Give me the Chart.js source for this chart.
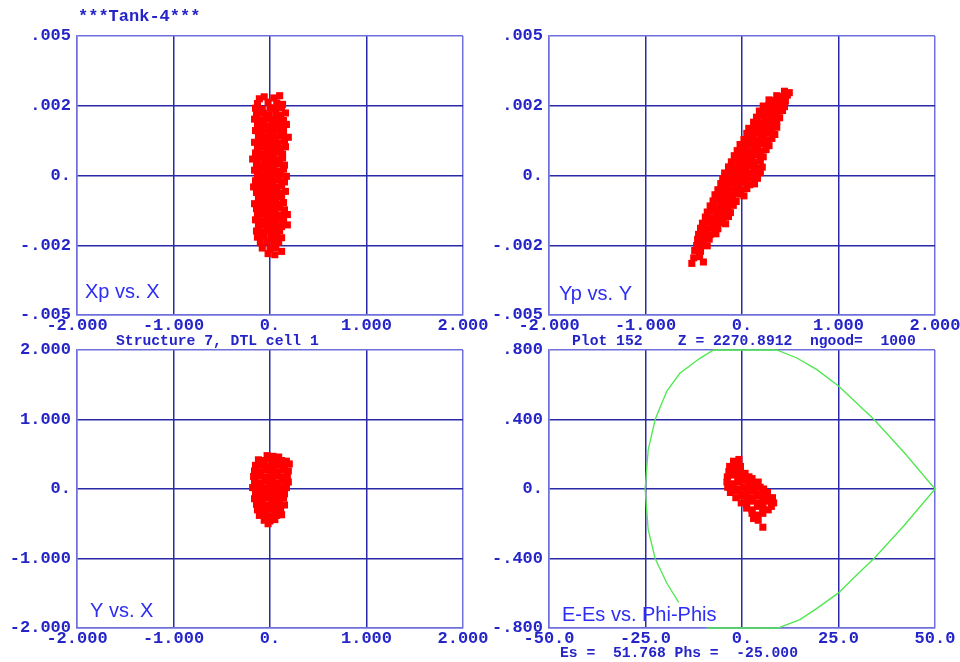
<!DOCTYPE html>
<html>
<head>
<meta charset="utf-8">
<script src="https://cdn.jsdelivr.net/npm/chart.js@4.4.0/dist/chart.umd.min.js"></script>
<style>
  html, body { margin: 0; padding: 0; background: #fff; }
  #wrap { position: relative; width: 960px; height: 662px; overflow: hidden; }
  #wrap canvas { position: absolute; left: 0; top: 0; }
  .txt { position: absolute; font-family: "Liberation Mono", monospace; font-weight: bold;
         color: #2424c8; white-space: pre; line-height: 1; }
</style>
</head>
<body>
<div id="wrap">
  <canvas id="p1" width="960" height="662"></canvas>
  <canvas id="p2" width="960" height="662"></canvas>
  <canvas id="p3" width="960" height="662"></canvas>
  <canvas id="p4" width="960" height="662"></canvas>
  <div class="txt" style="left:78px;top:8px;font-size:17px">***Tank-4***</div>
  <div class="txt" style="left:116px;top:334px;font-size:14.7px">Structure 7, DTL cell 1</div>
  <div class="txt" style="left:572px;top:334px;font-size:14.7px">Plot 152    Z = 2270.8912  ngood=  1000</div>
  <div class="txt" style="left:560px;top:646px;font-size:14.7px">Es =  51.768 Phs =  -25.000</div>
</div>
<script>
// tick values and the labels printed for them
const posTicks = [-2, -1, 0, 1, 2];            // X, Y in cm
const posLabels = ['-2.000', '-1.000', '0.', '1.000', '2.000'];
const angTicks = [-5, -2.5, 0, 2.5, 5];        // Xp, Yp in mrad
const angLabels = ['-.005', '-.002', '0.', '.002', '.005'];
const phiTicks = [-50, -25, 0, 25, 50];        // Phi-Phis in deg
const phiLabels = ['-50.0', '-25.0', '0.', '25.0', '50.0'];
const dETicks = [-0.8, -0.4, 0, 0.4, 0.8];     // E-Es in MeV
const dELabels = ['-.800', '-.400', '0.', '.400', '.800'];

// Xp vs. X  ([X cm, Xp mrad])
const xXpPoints = [
  [-0.06,2.82],[0.04,2.78],[0.1,2.86],[-0.11,2.75],
  [-0.13,2.58],[-0.02,2.63],[0.07,2.6],[0.13,2.55],
  [-0.15,2.41],[-0.08,2.37],[0.0,2.43],[0.05,2.39],[0.12,2.44],
  [-0.14,2.19],[-0.07,2.23],[-0.01,2.18],[0.06,2.21],[0.11,2.17],[0.16,2.24],
  [-0.16,2.02],[-0.1,1.98],[-0.04,2.03],[0.02,1.99],[0.08,2.01],[0.14,1.97],
  [-0.13,1.79],[-0.07,1.82],[-0.01,1.78],[0.05,1.81],[0.11,1.77],[0.17,1.83],
  [-0.15,1.61],[-0.09,1.58],[-0.03,1.62],[0.03,1.59],[0.09,1.63],[0.14,1.6],
  [-0.12,1.41],[-0.06,1.38],[0.0,1.42],[0.06,1.39],[0.12,1.43],[0.19,1.37],
  [-0.16,1.19],[-0.1,1.22],[-0.04,1.18],[0.02,1.21],[0.08,1.17],[0.15,1.23],
  [-0.13,0.99],[-0.07,1.02],[-0.01,0.98],[0.05,1.01],[0.11,0.97],[0.16,1.03],
  [-0.15,0.81],[-0.09,0.78],[-0.03,0.82],[0.03,0.79],[0.09,0.83],[0.13,0.77],
  [-0.18,0.59],[-0.11,0.62],[-0.05,0.58],[0.01,0.61],[0.07,0.57],[0.13,0.63],
  [-0.14,0.41],[-0.08,0.38],[-0.02,0.42],[0.04,0.39],[0.1,0.43],[0.15,0.37],
  [-0.16,0.19],[-0.1,0.22],[-0.04,0.18],[0.02,0.21],[0.08,0.17],[0.14,0.23],
  [-0.13,0.01],[-0.07,-0.02],[-0.01,0.02],[0.05,-0.01],[0.11,0.03],[0.17,-0.03],
  [-0.15,-0.19],[-0.09,-0.22],[-0.03,-0.18],[0.03,-0.21],[0.09,-0.17],[0.15,-0.23],
  [-0.17,-0.41],[-0.11,-0.38],[-0.05,-0.42],[0.01,-0.39],[0.07,-0.43],[0.12,-0.37],
  [-0.14,-0.61],[-0.08,-0.58],[-0.02,-0.62],[0.04,-0.59],[0.1,-0.63],[0.16,-0.57],
  [-0.12,-0.79],[-0.06,-0.82],[0.0,-0.78],[0.06,-0.81],[0.12,-0.77],
  [-0.16,-1.01],[-0.1,-0.98],[-0.04,-1.02],[0.02,-0.99],[0.08,-1.03],[0.14,-0.97],
  [-0.14,-1.19],[-0.08,-1.22],[-0.02,-1.18],[0.04,-1.21],[0.1,-1.17],[0.15,-1.23],
  [-0.13,-1.41],[-0.07,-1.38],[-0.01,-1.42],[0.05,-1.39],[0.11,-1.43],[0.18,-1.4],
  [-0.15,-1.59],[-0.09,-1.62],[-0.03,-1.58],[0.03,-1.61],[0.09,-1.57],[0.14,-1.63],
  [-0.12,-1.81],[-0.06,-1.78],[0.0,-1.82],[0.06,-1.79],[0.12,-1.83],[0.18,-1.77],
  [-0.14,-1.99],[-0.08,-2.02],[-0.02,-1.98],[0.04,-2.01],[0.1,-1.97],
  [-0.13,-2.21],[-0.06,-2.18],[0.01,-2.22],[0.07,-2.19],[0.12,-2.23],
  [-0.1,-2.41],[-0.03,-2.38],[0.04,-2.42],[0.09,-2.39],
  [-0.08,-2.6],[0.0,-2.63],[0.06,-2.58],
  [-0.02,-2.8],[0.05,-2.84],[0.12,-2.72]
];

// Yp vs. Y  ([Y cm, Yp mrad])
const yYpPoints = [
  [0.44,3.02],[0.49,2.97],
  [0.36,2.86],[0.42,2.83],[0.47,2.88],
  [0.28,2.71],[0.34,2.68],[0.4,2.72],[0.45,2.67],
  [0.22,2.49],[0.28,2.52],[0.34,2.48],[0.4,2.51],[0.44,2.47],
  [0.18,2.31],[0.24,2.28],[0.3,2.32],[0.36,2.29],[0.42,2.33],
  [0.15,2.09],[0.21,2.12],[0.27,2.08],[0.33,2.11],[0.39,2.07],
  [0.12,1.91],[0.18,1.88],[0.24,1.92],[0.3,1.89],[0.36,1.93],
  [0.07,1.69],[0.13,1.72],[0.19,1.68],[0.25,1.71],[0.31,1.67],[0.36,1.73],
  [0.05,1.51],[0.11,1.48],[0.17,1.52],[0.23,1.49],[0.29,1.53],[0.34,1.47],
  [0.02,1.29],[0.08,1.32],[0.14,1.28],[0.2,1.31],[0.26,1.27],[0.31,1.33],
  [-0.02,1.11],[0.04,1.08],[0.1,1.12],[0.16,1.09],[0.22,1.13],[0.28,1.07],
  [-0.05,0.89],[0.01,0.92],[0.07,0.88],[0.13,0.91],[0.19,0.87],[0.25,0.93],
  [-0.08,0.71],[-0.02,0.68],[0.04,0.72],[0.1,0.69],[0.16,0.73],[0.22,0.67],
  [-0.11,0.49],[-0.05,0.52],[0.01,0.48],[0.07,0.51],[0.13,0.47],[0.19,0.53],
  [-0.14,0.31],[-0.08,0.28],[-0.02,0.32],[0.04,0.29],[0.1,0.33],[0.16,0.27],[0.21,0.3],
  [-0.18,0.09],[-0.11,0.12],[-0.05,0.08],[0.01,0.11],[0.07,0.07],[0.13,0.13],[0.19,0.1],
  [-0.2,-0.11],[-0.13,-0.08],[-0.07,-0.12],[-0.01,-0.09],[0.05,-0.13],[0.11,-0.07],[0.16,-0.1],
  [-0.22,-0.29],[-0.16,-0.32],[-0.1,-0.28],[-0.04,-0.31],[0.02,-0.27],[0.08,-0.33],[0.13,-0.3],
  [-0.25,-0.51],[-0.19,-0.48],[-0.13,-0.52],[-0.07,-0.49],[-0.01,-0.53],[0.05,-0.47],
  [-0.28,-0.69],[-0.22,-0.72],[-0.16,-0.68],[-0.1,-0.71],[-0.04,-0.67],[0.02,-0.73],
  [-0.3,-0.91],[-0.24,-0.88],[-0.18,-0.92],[-0.12,-0.89],[-0.06,-0.93],
  [-0.33,-1.09],[-0.27,-1.12],[-0.21,-1.08],[-0.15,-1.11],[-0.09,-1.07],
  [-0.36,-1.31],[-0.3,-1.28],[-0.24,-1.32],[-0.18,-1.29],[-0.12,-1.33],
  [-0.38,-1.49],[-0.32,-1.52],[-0.26,-1.48],[-0.2,-1.51],[-0.14,-1.47],
  [-0.41,-1.71],[-0.35,-1.68],[-0.29,-1.72],[-0.23,-1.69],[-0.17,-1.73],
  [-0.43,-1.89],[-0.37,-1.92],[-0.31,-1.88],[-0.25,-1.91],
  [-0.45,-2.11],[-0.39,-2.08],[-0.33,-2.12],[-0.27,-2.09],
  [-0.46,-2.29],[-0.4,-2.32],[-0.34,-2.28],
  [-0.47,-2.51],[-0.41,-2.48],[-0.36,-2.52],
  [-0.49,-2.69],[-0.43,-2.72],
  [-0.5,-2.95],[-0.44,-2.91],
  [-0.52,-3.15],[-0.4,-3.1]
];

// Y vs. X  ([X cm, Y cm])
const xYPoints = [
  [-0.03,0.48],[0.03,0.47],[0.09,0.46],
  [-0.12,0.42],[-0.06,0.41],[0.0,0.43],[0.06,0.42],[0.12,0.41],[0.17,0.4],
  [-0.15,0.34],[-0.09,0.35],[-0.03,0.33],[0.03,0.34],[0.09,0.35],[0.15,0.33],[0.2,0.36],
  [-0.16,0.26],[-0.1,0.25],[-0.04,0.27],[0.02,0.26],[0.08,0.25],[0.14,0.27],[0.19,0.26],
  [-0.17,0.18],[-0.11,0.19],[-0.05,0.17],[0.01,0.18],[0.07,0.19],[0.13,0.17],[0.18,0.18],
  [-0.16,0.1],[-0.1,0.09],[-0.04,0.11],[0.02,0.1],[0.08,0.09],[0.14,0.11],[0.19,0.1],
  [-0.18,0.02],[-0.12,0.03],[-0.06,0.01],[0.0,0.02],[0.06,0.03],[0.12,0.01],[0.17,0.02],
  [-0.15,-0.06],[-0.09,-0.05],[-0.03,-0.07],[0.03,-0.06],[0.09,-0.05],[0.15,-0.07],
  [-0.16,-0.14],[-0.1,-0.15],[-0.04,-0.13],[0.02,-0.14],[0.08,-0.15],[0.14,-0.13],
  [-0.14,-0.22],[-0.08,-0.21],[-0.02,-0.23],[0.04,-0.22],[0.1,-0.21],[0.15,-0.23],
  [-0.13,-0.3],[-0.07,-0.31],[-0.01,-0.29],[0.05,-0.3],[0.11,-0.31],
  [-0.11,-0.38],[-0.05,-0.37],[0.01,-0.39],[0.07,-0.38],[0.12,-0.37],
  [-0.06,-0.45],[0.0,-0.46],[0.05,-0.44],
  [-0.02,-0.5]
];

// E-Es vs. Phi-Phis  ([deg, MeV])
const phiEPoints = [
  [-2.2,0.16],[-0.8,0.17],
  [-3.2,0.13],[-1.8,0.14],[-0.4,0.13],
  [-3.4,0.1],[-2.0,0.11],[-0.6,0.1],[0.8,0.09],
  [-3.8,0.07],[-2.4,0.08],[-1.0,0.07],[0.4,0.06],[1.8,0.07],[2.6,0.06],
  [-3.9,0.04],[-2.5,0.03],[-1.1,0.04],[0.3,0.05],[1.7,0.04],[3.1,0.03],[4.2,0.04],
  [-3.7,0.01],[-2.3,0.02],[-0.9,0.0],[0.5,0.01],[1.9,0.02],[3.3,0.0],[4.7,0.01],[5.6,0.0],
  [-3.0,-0.02],[-1.6,-0.01],[-0.2,-0.03],[1.2,-0.02],[2.6,-0.01],[4.0,-0.03],[5.4,-0.02],[6.6,-0.02],
  [-1.6,-0.05],[-0.2,-0.04],[1.2,-0.06],[2.6,-0.05],[4.0,-0.04],[5.4,-0.06],[6.8,-0.05],[7.9,-0.05],
  [-0.2,-0.08],[1.2,-0.09],[2.6,-0.07],[4.0,-0.08],[5.4,-0.09],[6.8,-0.07],[8.2,-0.08],
  [1.2,-0.11],[2.6,-0.12],[4.0,-0.1],[5.4,-0.11],[6.8,-0.12],[7.6,-0.1],
  [2.6,-0.14],[4.0,-0.15],[5.4,-0.14],
  [3.0,-0.17],[4.2,-0.18],
  [5.4,-0.22]
];

// separatrix (clipped to +-0.8 in the plot)
const separatrixPhi = [-9.1, 0, 9.3, 15.0, 19.4, 25, 29.7, 34.2, 42, 46, 50,
  46, 42, 34.2, 29.7, 25, 19.4, 14.2, 9, 0, -7.4, -10.9, -16.1, -19.5, -22.5, -24.3, -25.1,
  -24.3, -22.5, -19.5, -16.4];
const separatrixDE = [-0.8, -0.8, -0.8, -0.752, -0.687, -0.598, -0.495, -0.40, -0.21, -0.105, 0,
  0.105, 0.21, 0.40, 0.495, 0.593, 0.687, 0.754, 0.8, 0.8, 0.8, 0.752, 0.666, 0.562, 0.40, 0.226, 0,
  -0.234, -0.40, -0.541, -0.652];

const TEXT = '#2424c8';
const GRID = '#2a2aa8';
const EDGE = '#7070dd';
const RED = '#ff0000';
const GREEN = '#4de84d';
const MONO = '"Liberation Mono", "DejaVu Sans Mono", monospace';

const panelLabel = {
  id: 'panelLabel',
  afterDraw(chart, args, opts) {
    const { ctx, chartArea } = chart;
    ctx.save();
    ctx.font = '20px "Liberation Sans", Arial, sans-serif';
    ctx.fillStyle = '#2e2ef2';
    ctx.textBaseline = 'alphabetic';
    ctx.fillText(opts.text, chartArea.left + opts.dx, chartArea.bottom - opts.dy);
    ctx.restore();
  }
};

function axis(ticks, labels, horizontal) {
  return {
    type: 'linear',
    min: ticks[0],
    max: ticks[ticks.length - 1],
    afterBuildTicks: s => { s.ticks = ticks.map(v => ({ value: v })); },
    afterFit: s => {
      if (horizontal) { s.height = 30; s.paddingLeft = 0; s.paddingRight = 0; }
      else { s.width = 70; s.paddingTop = 0; s.paddingBottom = 0; }
    },
    ticks: {
      autoSkip: false, maxRotation: 0, minRotation: 0,
      padding: horizontal ? 1 : 6,
      color: TEXT,
      font: { family: MONO, size: 17, weight: 'bold' },
      callback: (v, i) => labels[i]
    },
    grid: {
      drawTicks: false,
      lineWidth: 1.5,
      color: c => (c.index === 0 || c.index === ticks.length - 1) ? EDGE : GRID
    },
    border: { color: EDGE, width: 1.5 }
  };
}

function cloud(points) {
  return {
    data: points.map(p => ({ x: p[0], y: p[1] })),
    pointStyle: 'rect',
    pointRadius: 5,
    backgroundColor: RED,
    borderColor: RED,
    borderWidth: 0
  };
}

function makePanel(id, area, xAxis, yAxis, datasets, label) {
  return new Chart(document.getElementById(id), {
    type: 'scatter',
    data: { datasets: datasets },
    options: {
      responsive: false,
      animation: false,
      events: [],
      layout: {
        padding: { left: area.left - 70, top: area.top, right: 960 - area.right, bottom: 662 - area.bottom - 30 }
      },
      plugins: { legend: { display: false }, tooltip: { enabled: false }, panelLabel: label },
      scales: { x: xAxis, y: yAxis }
    },
    plugins: [panelLabel]
  });
}

makePanel('p1', { left: 77, top: 36, right: 463, bottom: 315 },
  axis(posTicks, posLabels, true), axis(angTicks, angLabels, false),
  [cloud(xXpPoints)], { text: 'Xp vs. X', dx: 8, dy: 17 });

makePanel('p2', { left: 549, top: 36, right: 935, bottom: 315 },
  axis(posTicks, posLabels, true), axis(angTicks, angLabels, false),
  [cloud(yYpPoints)], { text: 'Yp vs. Y', dx: 10, dy: 15 });

makePanel('p3', { left: 77, top: 350, right: 463, bottom: 628 },
  axis(posTicks, posLabels, true), axis(posTicks, posLabels, false),
  [cloud(xYPoints)], { text: 'Y vs. X', dx: 13, dy: 11 });

makePanel('p4', { left: 549, top: 350, right: 935, bottom: 628 },
  axis(phiTicks, phiLabels, true), axis(dETicks, dELabels, false),
  [
    {
      data: separatrixPhi.map((x, i) => ({ x: x, y: separatrixDE[i] })),
      showLine: true, pointRadius: 0, borderColor: GREEN, borderWidth: 1.3,
      tension: 0, clip: false
    },
    cloud(phiEPoints)
  ], { text: 'E-Es vs. Phi-Phis', dx: 13, dy: 7 });
</script>
</body>
</html>
